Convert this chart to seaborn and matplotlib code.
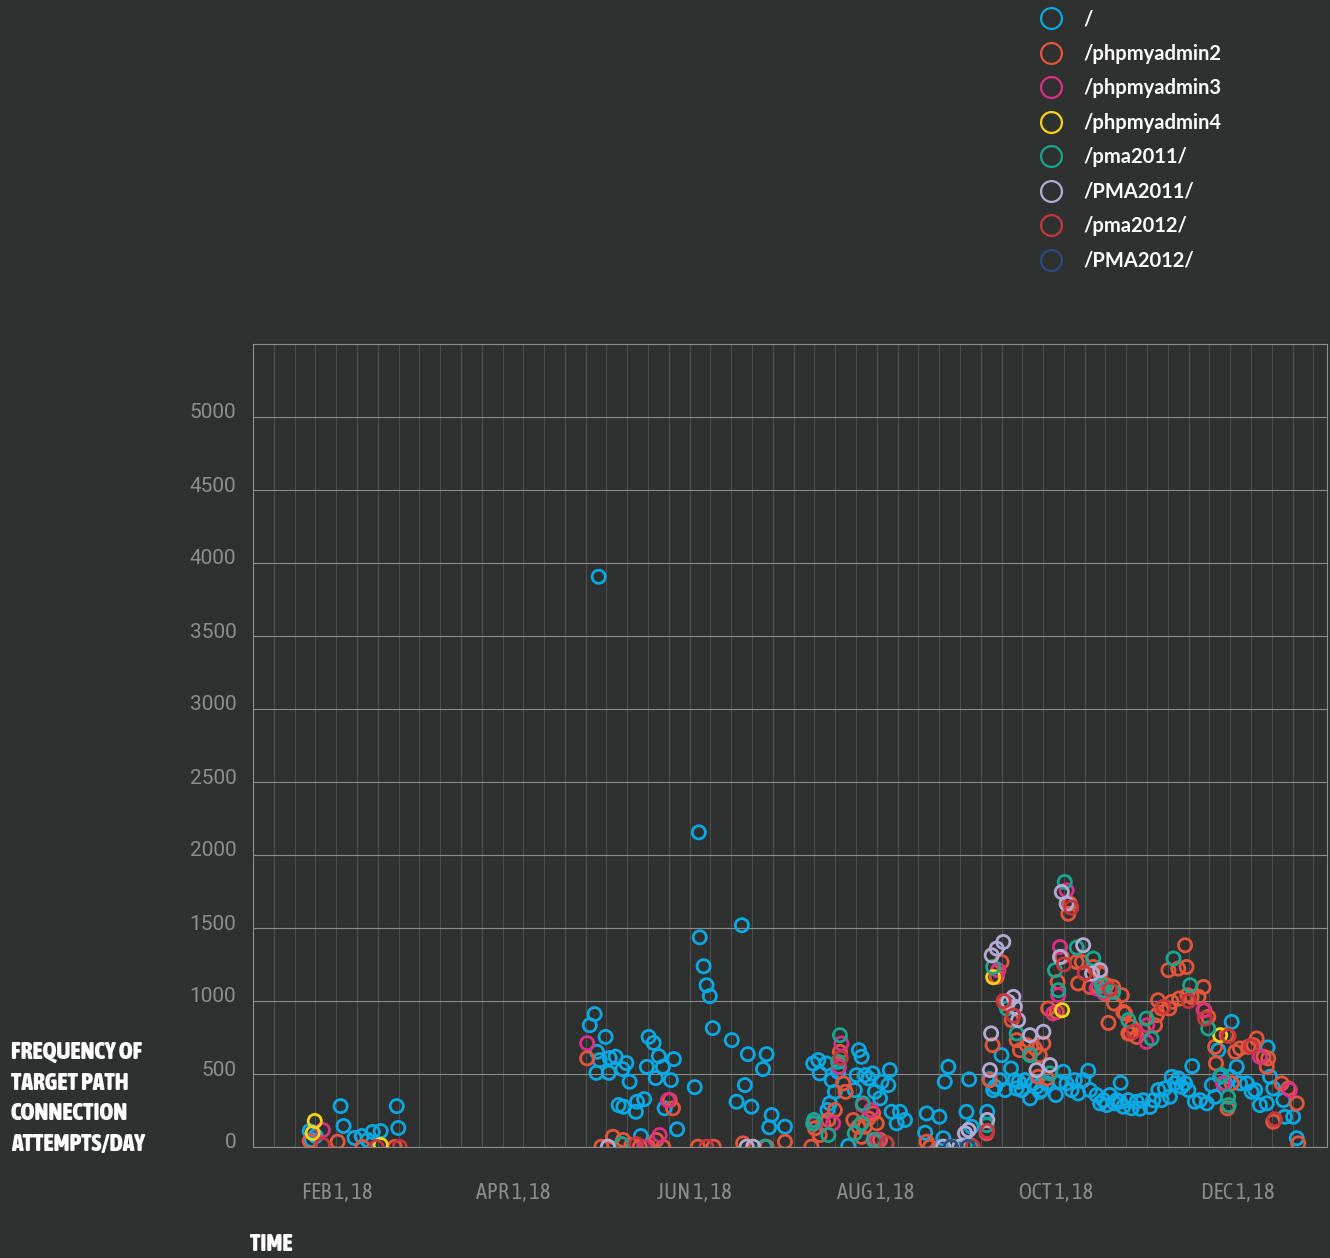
import numpy as np
import pandas as pd
import matplotlib
matplotlib.use("Agg")
import matplotlib.pyplot as plt
import matplotlib.dates as mdates
import matplotlib.transforms as mtransforms
from matplotlib.lines import Line2D
from matplotlib import font_manager
import seaborn as sns

# ── data: day of 2018 (0 = Jan 1) and connection attempts per day ──────────
root_day = [21.6, 22.2, 23.6, 32.0, 33.0, 36.7, 39.1, 41.1, 42.8, 45.5, 50.9, 51.4,
            115.9, 117.5, 118.1, 118.3, 118.9, 119.2, 121.2, 122.3, 122.6, 124.6, 125.6, 126.9,
            127.2, 128.2, 129.3, 131.4, 131.8, 133.1, 134.2, 135.1, 135.7, 137.4, 138.1, 139.1,
            140.5, 141.1, 143.2, 144.2, 145.3, 151.2, 152.6, 152.9, 154.2, 155.2, 156.3, 157.3,
            163.7, 165.3, 167.1, 168.1, 169.1, 170.3, 174.2, 175.4, 176.3, 177.1, 181.6,
            191.1, 192.8, 193.3, 195.6, 195.9, 196.7, 197.3, 198.4, 199.5, 202.9, 205.1, 205.7,
            206.5, 207.4, 208.5, 209.7, 211.1, 211.9, 213.6, 214.1, 216.4, 216.9, 217.5, 219.2,
            220.3, 222.0, 228.8, 229.3, 233.6, 234.1, 234.9, 235.4, 236.6, 242.7, 243.6, 244.4,
            249.7, 250.4, 251.7, 252.3, 254.0, 254.5, 255.7, 257.7, 259.0, 259.6, 260.3, 261.3,
            262.4, 264.1, 265.2, 266.3, 267.4, 268.0, 269.7, 272.8, 274.2, 275.3, 276.4, 278.1,
            279.2, 280.3, 282.0, 283.7, 284.3, 286.5, 287.7, 288.8, 289.9, 291.0, 292.7, 293.3,
            294.4, 294.6, 295.5, 297.2, 298.3, 300.0, 301.1, 302.2, 304.5, 305.6, 307.3, 308.4,
            309.5, 311.2, 311.8, 312.9, 314.0, 315.2, 316.3, 317.4, 318.7, 319.6, 321.3, 323.6,
            325.3, 326.4, 327.5, 328.1, 329.8, 331.5, 332.0, 333.7, 334.8, 337.1, 338.7, 339.9,
            341.5, 343.8, 344.1, 344.9, 346.0, 349.4, 349.9, 352.7, 353.9]
root_cnt = [109, 48, 75, 280, 144, 62, 75, 48, 103, 109, 280, 130,
            834, 910, 508, 652, 3906, 595, 754, 508, 609, 618, 287, 534,
            276, 575, 447, 241, 310, 75, 328, 549, 754, 713, 472, 622,
            549, 265, 458, 602, 121, 410, 2155, 1436, 1238, 1108, 1033, 814,
            732, 310, 1519, 424, 636, 276, 534, 636, 135, 219, 139,
            572, 595, 504, 572, 253, 299, 458, 378, 515, 7, 390, 492,
            663, 618, 492, 470, 504, 378, 333, 447, 424, 527, 241, 162,
            241, 185, 98, 230, 207, 2, 60, 447, 549, 241, 463, 139,
            241, 465, 390, 412, 458, 629, 390, 538, 458, 401, 447, 390,
            458, 333, 436, 412, 378, 390, 436, 356, 447, 515, 436, 390,
            458, 367, 458, 522, 390, 356, 299, 321, 287, 356, 299, 321,
            310, 440, 276, 321, 265, 310, 262, 321, 274, 321, 390, 321,
            401, 344, 481, 436, 470, 412, 436, 390, 554, 310, 321, 299,
            424, 344, 663, 481, 436, 481, 857, 549, 436, 436, 378, 390,
            287, 299, 682, 481, 401, 321, 207, 207, 60]

pma2_day = [21.6, 31.0, 39.4, 50.2,
            115.0, 119.8, 123.7, 127.1, 129.9, 132.7, 135.5, 138.3, 140.6, 142.8, 143.9, 152.3,
            157.6, 167.5, 175.4, 181.6,
            190.5, 191.7, 193.3, 194.5, 196.2, 198.4, 200.1, 201.2, 202.0, 204.6, 206.3, 207.4,
            208.5, 209.7, 211.3, 211.9, 212.5, 213.6, 229.3, 230.4, 243.9,
            249.5, 250.6, 251.5, 252.9, 253.4, 254.5, 255.7, 257.9, 259.6, 260.7, 263.0, 264.1,
            265.8, 266.9, 267.4, 268.6, 269.7, 270.2, 273.1, 273.4, 274.8, 277.0, 277.5, 279.8,
            280.3, 281.5, 284.3, 285.4, 287.1, 287.7, 289.3, 289.9, 290.5, 292.1, 292.4, 295.0,
            295.5, 296.1, 297.2, 297.8, 298.3, 300.0, 302.2, 306.2, 306.8, 307.2, 308.4, 310.7,
            311.0, 311.8, 314.0, 314.3, 316.3, 316.8, 317.1, 318.5, 320.8, 322.5, 322.8, 324.1,
            326.4, 326.7, 330.3, 330.6, 332.0, 333.2, 334.8, 337.6, 339.3, 340.4, 342.7, 343.8,
            344.3, 346.0, 348.8, 351.1, 353.9, 354.4]
pma2_cnt = [41, 36, 0, 0,
            607, 2, 70, 48, 14, 2, 2, 48, 0, 321, 265, 2,
            2, 25, 2, 36,
            2, 128, 82, 162, 185, 253, 652, 436, 378, 185, 139, 70,
            139, 196, 230, 36, 162, 48, 36, 0, 14,
            94, 458, 698, 1165, 1211, 1267, 983, 869, 732, 663, 698, 641,
            675, 481, 629, 709, 470, 949, 925, 1131, 1302, 1598, 1667, 1267,
            1120, 1267, 1096, 1233, 1096, 1188, 1051, 1108, 850, 1096, 983, 1040,
            925, 915, 778, 778, 823, 754, 800, 834, 903, 1005, 949, 1211,
            949, 994, 1222, 1017, 1382, 1233, 1040, 1028, 1028, 1096, 937, 891,
            686, 573, 766, 265, 436, 652, 675, 686, 698, 743, 618, 549,
            607, 173, 436, 401, 299, 25]

pma3_day = [26.0, 115.0, 134.4, 139.4, 142.2, 191.7, 197.8, 199.8, 200.6, 207.8, 210.6, 212.5,
            249.5, 253.4, 271.9, 273.6, 274.2, 276.4, 286.5, 288.8, 303.3, 303.6, 322.5, 329.1,
            341.5, 351.6]
pma3_cnt = [116, 711, 0, 82, 321, 162, 162, 549, 709, 287, 253, 48,
            105, 1211, 915, 1040, 1370, 1758, 1086, 1062, 720, 834, 937, 436,
            618, 390]

pma4_day = [22.6, 23.3, 45.5, 251.7, 274.9, 328.1]
pma4_cnt = [96, 178, 14, 1163, 937, 766]

p2011_day = [126.6, 174.8, 191.1, 191.4, 196.2, 199.5, 200.1, 205.1, 207.4, 207.8, 211.5, 215.8,
             242.2, 243.6, 249.5, 251.7, 256.3, 259.6, 264.1, 270.8, 272.5, 273.6, 275.8, 279.8,
             285.4, 288.2, 288.8, 292.1, 297.2, 303.3, 305.0, 312.4, 318.0, 324.1, 328.6, 330.8,
             331.0]
p2011_cnt = [20, 2, 162, 185, 82, 583, 766, 94, 162, 299, 48, 25,
             14, 14, 150, 1233, 949, 778, 629, 504, 1211, 1074, 1815, 1366,
             1291, 1108, 1074, 1062, 869, 880, 743, 1291, 1108, 812, 492, 344,
             287]

P2011_day = [122.0, 168.7, 170.9, 234.9, 237.7, 240.3, 242.2, 243.4, 249.7, 250.6, 251.0, 251.2,
             252.9, 255.1, 256.8, 258.5, 259.0, 260.1, 264.1, 266.3, 268.6, 270.8, 274.2, 274.8,
             276.4, 282.0, 285.0, 287.7]
P2011_cnt = [2, 2, 2, 2, 2, 2, 94, 116, 185, 527, 778, 1313,
             1359, 1404, 994, 1028, 960, 869, 766, 527, 789, 561, 1302, 1746,
             1667, 1382, 1188, 1211]

p2012_day = [26.0, 44.1, 51.9, 131.5, 155.2, 200.4, 215.8, 244.8, 249.7, 255.2, 258.5, 275.5,
             278.0, 282.5, 291.0, 299.0, 309.0, 317.5, 323.0, 331.0, 338.5, 346.5]
p2012_cnt = [14, 0, 0, 20, 2, 610, 25, 2, 110, 1000, 900, 1250,
             1640, 1190, 1080, 790, 960, 1000, 880, 760, 690, 190]

P2012_day = [237.5, 243.2]
P2012_cnt = [0, 0]

paths = ["/", "/phpmyadmin2", "/phpmyadmin3", "/phpmyadmin4",
         "/pma2011/", "/PMA2011/", "/pma2012/", "/PMA2012/"]
colors = ["#0aa9e3", "#e4563b", "#dc2f86", "#f6d514",
          "#17a68f", "#b4abd4", "#c9363d", "#2c4c7e"]

BG = "#2f3030"

frames = []
for name, d, c in [("/", root_day, root_cnt), ("/phpmyadmin2", pma2_day, pma2_cnt),
                   ("/phpmyadmin3", pma3_day, pma3_cnt), ("/phpmyadmin4", pma4_day, pma4_cnt),
                   ("/pma2011/", p2011_day, p2011_cnt), ("/PMA2011/", P2011_day, P2011_cnt),
                   ("/pma2012/", p2012_day, p2012_cnt), ("/PMA2012/", P2012_day, P2012_cnt)]:
    frames.append(pd.DataFrame({"day": d, "count": c, "path": name}))
df = pd.concat(frames, ignore_index=True)
df["date"] = pd.Timestamp("2018-01-01") + pd.to_timedelta(df["day"], unit="D")

# ── style ──────────────────────────────────────────────────────────────────
sns.set_theme(style="dark")
plt.rcParams["font.family"] = ["Roboto", "DejaVu Sans"]


def _w(f):
    w = f.weight
    return w if isinstance(w, int) else font_manager.weight_dict.get(w, 400)


# pick condensed faces by file (heaviest for titles, same family ~regular for dates)
cands = [f for f in font_manager.fontManager.ttflist
         if "condensed" in (f.name + f.fname).lower() or "narrow" in (f.name + f.fname).lower()
         or f.stretch in ("condensed", "semi-condensed")]
cands = [f for f in cands if "italic" not in f.fname.lower() and f.style == "normal"]
if cands:
    bold = max(cands, key=_w)
    same = [f for f in cands if f.name == bold.name and f.stretch == bold.stretch] or cands
    reg = min(same, key=lambda f: abs(_w(f) - 400))
    COND_REG = font_manager.FontProperties(fname=reg.fname)
    COND_BOLD = font_manager.FontProperties(fname=bold.fname)
else:
    COND_REG = font_manager.FontProperties(family="DejaVu Sans")
    COND_BOLD = font_manager.FontProperties(family="DejaVu Sans", weight="bold")

W, H = 1330, 1258
fig = plt.figure(figsize=(W / 100, H / 100), dpi=100, facecolor=BG)
ax = fig.add_axes([253 / W, 1 - 1147 / H, (1327 - 253) / W, (1147 - 344) / H])
ax.set_facecolor(BG)

sns.scatterplot(data=df, x="date", y="count", hue="path", hue_order=paths,
                palette=dict(zip(paths, colors)), s=90, linewidth=2.0,
                legend=False, ax=ax, zorder=3)
pts = ax.collections[0]
fc = pts.get_facecolors()
pts.set_edgecolors(fc)
pts.set_facecolors("none")

x0 = pd.Timestamp("2018-01-03 12:00")
x1 = pd.Timestamp("2018-12-31 02:00")
ax.set_xlim(x0, x1)
ax.set_ylim(0, 5500)

# weekly vertical grid
weeks = pd.date_range(x0, x1, freq="7D")
ax.set_xticks(mdates.date2num(weeks), minor=True)
months = pd.to_datetime(["2018-02-01", "2018-04-01", "2018-06-01",
                         "2018-08-01", "2018-10-01", "2018-12-01"])
ax.set_xticks(mdates.date2num(months))
xfp = COND_REG.copy()
xfp.set_size(16)
ax.set_xticklabels([m.strftime("%b 1, %y").upper() for m in months],
                   fontproperties=xfp, color="#8c8c8c")
ax.set_yticks(np.arange(0, 5001, 500))
ax.set_yticklabels([str(v) for v in range(0, 5001, 500)], fontsize=15, color="#8e8e8e")
ax.tick_params(axis="both", which="both", length=0)
ax.tick_params(axis="x", pad=25)
ax.tick_params(axis="y", pad=12)
off = mtransforms.ScaledTranslation(0, 6 / 100, fig.dpi_scale_trans)
for lab in ax.get_yticklabels():
    lab.set_transform(lab.get_transform() + off)

ax.grid(False)
ax.grid(axis="x", which="minor", color="#4e4f4f", linewidth=0.8, zorder=0)
ax.grid(axis="y", which="major", color="#8d8d8d", linewidth=0.8, zorder=1)
for side in ["left", "top", "right", "bottom"]:
    ax.spines[side].set_visible(True)
    ax.spines[side].set_color("#8d8d8d")
    ax.spines[side].set_linewidth(0.8)
ax.set_xlabel("")
ax.set_ylabel("")

# axis titles
tfp = COND_BOLD.copy()
tfp.set_size(17)
fig.text(11 / W, 1 - 1041 / H, "FREQUENCY OF\nTARGET PATH\nCONNECTION\nATTEMPTS/DAY",
         ha="left", va="top", linespacing=1.42, fontproperties=tfp, color="white")
fig.text(250 / W, 1 - 1256 / H, "TIME", ha="left", va="bottom",
         fontproperties=tfp, color="white")

# legend
handles = [Line2D([], [], linestyle="none", marker="o", markersize=15,
                  markerfacecolor="none", markeredgecolor=c, markeredgewidth=1.6)
           for c in colors]
leg = fig.legend(handles, paths, loc="upper left", bbox_to_anchor=(1018 / W, 1 + 9 / H),
                 frameon=False, labelspacing=0.72, handletextpad=0.85, handlelength=1.5,
                 prop=dict(family=["Lato", "DejaVu Sans"], weight="bold", size=14.5))
for t in leg.get_texts():
    t.set_color("white")

fig.savefig("out.png", dpi=100, facecolor=BG)
